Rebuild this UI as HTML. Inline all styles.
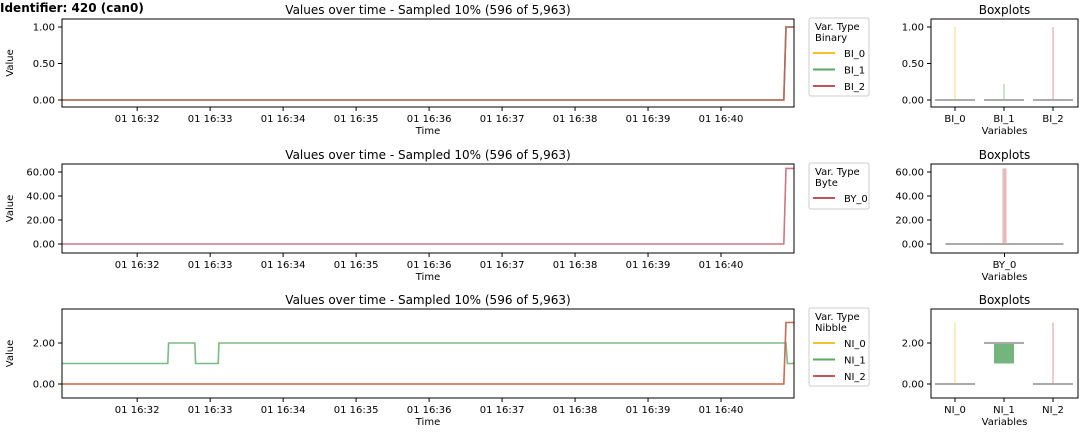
<!DOCTYPE html>
<html><head><meta charset="utf-8"><style>
body{margin:0;background:#fff;width:1080px;height:432px;overflow:hidden;font-family:"DejaVu Sans","Liberation Sans",sans-serif}
svg text{font-family:"DejaVu Sans","Liberation Sans",sans-serif}
</style></head><body>
<svg id="c" width="1080" height="432" xmlns="http://www.w3.org/2000/svg">
<text x="0" y="12" font-size="12" font-weight="bold">Identifier: 420 (can0)</text>
</svg>
<script>
// time in minutes after 16:00
const timeTicks = [32,33,34,35,36,37,38,39,40];
const tickLabels = ["01 16:32","01 16:33","01 16:34","01 16:35","01 16:36","01 16:37","01 16:38","01 16:39","01 16:40"];
const binTimes = [30.97,40.86,40.89,41.0];
const bi0 = [0,0,1,1];
const bi1 = [0,0,1,1];
const bi2 = [0,0,1,1];
const byTimes = [30.97,40.86,40.89,41.0];
const by0 = [0,0,63,63];
const niTimes = [30.97,32.42,32.43,32.79,32.80,33.11,33.12,40.84,40.86,40.89,40.91,41.0];
const ni0 = [0,0,0,0,0,0,0,0,0,3,3,3];
const ni1 = [1,1,2,2,1,1,2,2,2,2,1,1];
const ni2 = [0,0,0,0,0,0,0,0,0,3,3,3];
const binNames = ["BI_0","BI_1","BI_2"];
const byNames = ["BY_0"];
const niNames = ["NI_0","NI_1","NI_2"];
// boxplot stats: [min, q1, median, q3, max]
const binStats = [[0,0,0,0,1],[0,0,0,0,0.22],[0,0,0,0,1]];
const byStats = [[0,0,0,0,63]];
const niStats = [[0,0,0,0,3],[1,1,2,2,2],[0,0,0,0,3]];

const palette=["#f2c12e","#5ba865","#c05560"];
const NS="http://www.w3.org/2000/svg";
const svg=document.getElementById('c');
function mk(tag,attrs,parent){const e=document.createElementNS(NS,tag);for(const k in attrs)e.setAttribute(k,attrs[k]);(parent||svg).appendChild(e);return e;}
function txt(x,y,s,size,anchor,parent){const t=mk('text',{x:x,y:y,'font-size':size,'text-anchor':anchor||'start',fill:'#000'},parent);t.textContent=s;return t;}

const X0=62,X1=794,T0=30.97,T1=41.0;
function xs(t){return X0+(t-T0)/(T1-T0)*(X1-X0);}

function row(cfg){
  const {top,bot,yScale,yTicks,yLabels,times,series,names,stats,typeName,legendY,legendH,colors}=cfg;
  const g=mk('g',{});
  
  
  txt((X0+X1)/2,top-5,"Values over time - Sampled 10% (596 of 5,963)",12,'middle',g);
  series.forEach((s,i)=>{
    let d='';s.forEach((v,j)=>{d+=(j?'L':'M')+xs(times[j]).toFixed(1)+','+yScale(v).toFixed(1);});
    const p=mk('path',{d:d,fill:'none',stroke:colors[i],'stroke-width':1.6,opacity:0.8},g);
    
    
  });
  const frame=mk('rect',{x:X0,y:top,width:X1-X0,height:bot-top,fill:'none',stroke:'#000','stroke-width':1},g);
  
  yTicks.forEach((v,i)=>{const y=yScale(v);mk('line',{x1:X0-4,x2:X0,y1:y,y2:y,stroke:'#000'},g);txt(X0-7,y+3.5,yLabels[i],10,'end',g);});
  timeTicks.forEach((t,i)=>{const x=xs(t);mk('line',{x1:x,x2:x,y1:bot,y2:bot+4,stroke:'#000'},g);txt(x,bot+15,tickLabels[i],10,'middle',g);});
  txt((X0+X1)/2,bot+27,"Time",10,'middle',g);
  const yt=txt(0,0,"Value",10,'middle',g);yt.setAttribute('transform','translate(13,'+((top+bot)/2)+') rotate(-90)');
  
  const lg=mk('g',{},g);
  
  
  mk('rect',{x:809,y:legendY,width:60,height:legendH,fill:'#fff',stroke:'#ccc',rx:2},lg);
  txt(815,legendY+12,"Var. Type",10,'start',lg);
  txt(815,legendY+23,typeName,10,'start',lg);
  names.forEach((n,i)=>{const y=legendY+35+i*16.5;mk('line',{x1:813,x2:835,y1:y,y2:y,stroke:colors[i],'stroke-width':2},lg);
    const t=txt(844,y+4,n,10,'start',lg);});
  const BX0=931,BX1=1078;
  const bg=mk('g',{},g);
  
  
  txt((BX0+BX1)/2,top-5,"Boxplots",12,'middle',bg);
  const n=names.length, step=n===1?(BX1-BX0):49, start=n===1?(BX0+BX1)/2:955;
  const bw=n===1?118:40;
  stats.forEach((st,i)=>{
    const cx=start+i*step;
    mk('line',{x1:cx,x2:cx,y1:yScale(st[4]),y2:yScale(st[3]),stroke:colors[i],'stroke-width':n===1?4:1.5,opacity:0.4},bg);
    if(st[3]>st[1]){const b=mk('rect',{x:cx-10,y:yScale(st[3]),width:20,height:yScale(st[1])-yScale(st[3]),fill:colors[i],opacity:0.85},bg);}
    mk('line',{x1:cx-bw/2,x2:cx+bw/2,y1:yScale(st[2]),y2:yScale(st[2]),stroke:'#aaa','stroke-width':2},bg);
    mk('line',{x1:cx,x2:cx,y1:bot,y2:bot+4,stroke:'#000'},bg);
    txt(cx,bot+15,names[i],10,'middle',bg);
  });
  mk('rect',{x:BX0,y:top,width:BX1-BX0,height:bot-top,fill:'none',stroke:'#000'},bg);
  yTicks.forEach((v,i)=>{const y=yScale(v);mk('line',{x1:BX0-4,x2:BX0,y1:y,y2:y,stroke:'#000'},bg);txt(BX0-7,y+3.5,yLabels[i],10,'end',bg);});
  txt((BX0+BX1)/2,bot+27,"Variables",10,'middle',bg);
}
row({top:19,bot:107,yScale:v=>100-v*73,yTicks:[0,0.5,1],yLabels:["0.00","0.50","1.00"],times:binTimes,series:[bi0,bi1,bi2],names:binNames,stats:binStats,typeName:"Binary",legendY:18,legendH:78,colors:palette});
row({top:164,bot:253,yScale:v=>244-v*1.2,yTicks:[0,20,40,60],yLabels:["0.00","20.00","40.00","60.00"],times:byTimes,series:[by0],names:byNames,stats:byStats,typeName:"Byte",legendY:163,legendH:46,colors:[palette[2]]});
row({top:309,bot:398,yScale:v=>384-v*20.5,yTicks:[0,2],yLabels:["0.00","2.00"],times:niTimes,series:[ni0,ni1,ni2],names:niNames,stats:niStats,typeName:"Nibble",legendY:308,legendH:78,colors:palette});
</script>
</body></html>
